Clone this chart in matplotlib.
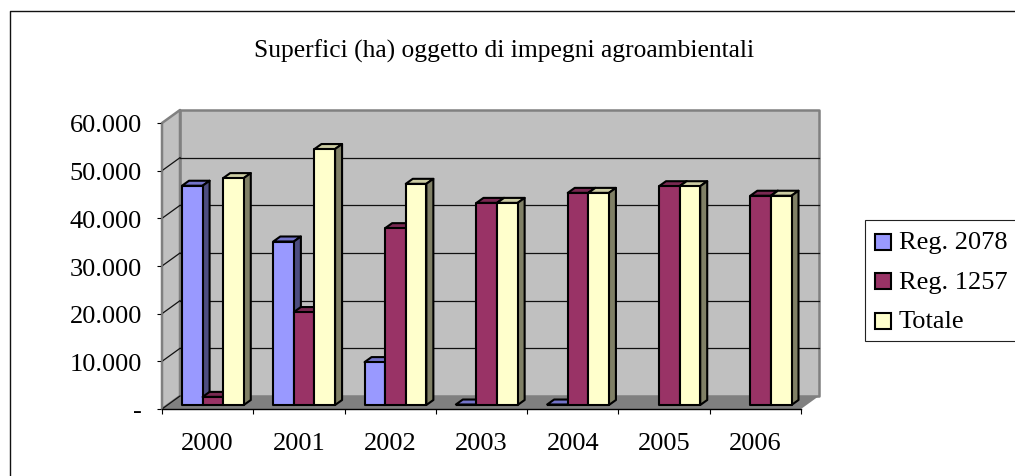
# plot.py
# 3D-look clustered columns drawn on a flat axes, depth is faked with offsets.
import matplotlib
matplotlib.use("Agg")
import matplotlib.pyplot as plt
from matplotlib.patches import Polygon, Rectangle

plt.rcParams['font.family'] = ['Liberation Serif', 'DejaVu Serif']

years = ['2000', '2001', '2002', '2003', '2004', '2005', '2006']
reg_2078 = [46000, 34300, 9000, 100, 100, 0, 0]
reg_1257 = [1700, 19500, 37100, 42400, 44500, 45900, 43900]
totale = [47600, 53700, 46400, 42400, 44500, 45900, 43900]
y_ticks = [0, 10000, 20000, 30000, 40000, 50000, 60000]
y_labels = ['-', '10.000', '20.000', '30.000', '40.000', '50.000', '60.000']
series_names = ['Reg. 2078', 'Reg. 1257', 'Totale']
title = 'Superfici (ha) oggetto di impegni agroambientali'

# front, top, side colours
colors = [('#9999FF', '#7373C9', '#4D4D80'),
          ('#993366', '#7A2952', '#4D1A33'),
          ('#FFFFCC', '#CCCCA3', '#808066')]

W, H = 1015, 477
fig = plt.figure(figsize=(W / 100, H / 100), dpi=100)
ax = fig.add_axes([162 / W, (H - 410) / H, 639 / W, 286 / H])
ax.set_xlim(0, 7)
ax.set_ylim(0, 60000)
ax.patch.set_visible(False)

# depth of the box and of the bars, in data units
DX, DY = 18 / 91.3, 13 / 47.67 * 10000
BAR_X0, BAR_W = 20 / 91.3, 20.6 / 91.3
BAR_BASE = 4 / 47.67 * 10000
BAR_DX, BAR_DY = 7 / 91.3, 5 / 47.67 * 10000
GREY = '#808080'
BAR_LW = 1.5


def poly(pts, fc, ec='none', lw=0, z=1):
    ax.add_patch(Polygon(pts, closed=True, facecolor=fc, edgecolor=ec, linewidth=lw,
                         zorder=z, clip_on=False, joinstyle='round'))


# walls and floor
poly([(DX, DY), (7 + DX, DY), (7 + DX, 60000 + DY), (DX, 60000 + DY)], '#C0C0C0', GREY, 1.8)
poly([(0, 0), (DX, DY), (DX, 60000 + DY), (0, 60000)], '#C0C0C0', GREY, 1.8)
poly([(0, 0), (7, 0), (7 + DX, DY), (DX, DY)], GREY)

# gridlines on back wall and side wall
for t in y_ticks[1:-1]:
    ax.plot([DX, 7 + DX], [t + DY, t + DY], color='#111111', lw=0.9, zorder=2, clip_on=False)
for t in y_ticks[:-1]:
    ax.plot([0, DX], [t, t + DY], color='#111111', lw=0.9, zorder=2, clip_on=False)

# bars
for i in range(len(years)):
    for s, vals in enumerate([reg_2078, reg_1257, totale]):
        v = vals[i]
        if v == 0:
            continue
        x0 = i + BAR_X0 + s * BAR_W
        x1 = x0 + BAR_W
        y0 = BAR_BASE
        y1 = BAR_BASE + v
        front, top, side = colors[s]
        z = 3 + i + s * 0.1
        poly([(x0, y1), (x1, y1), (x1 + BAR_DX, y1 + BAR_DY), (x0 + BAR_DX, y1 + BAR_DY)],
             top, 'black', BAR_LW, z)
        poly([(x1, y0), (x1 + BAR_DX, y0 + BAR_DY), (x1 + BAR_DX, y1 + BAR_DY), (x1, y1)],
             side, 'black', BAR_LW, z)
        poly([(x0, y0), (x1, y0), (x1, y1), (x0, y1)], front, 'black', BAR_LW, z)

# axes
for name in ['top', 'right']:
    ax.spines[name].set_visible(False)
ax.spines['left'].set_color(GREY)
ax.spines['left'].set_linewidth(1.2)
ax.spines['bottom'].set_color('black')
ax.spines['bottom'].set_linewidth(1.0)
ax.set_yticks(y_ticks)
ax.set_yticklabels(y_labels)
ax.set_xticks(range(8))
ax.set_xticklabels([])
ax.set_xticks([i + 0.5 for i in range(7)], minor=True)
ax.set_xticklabels(years, minor=True)
ax.tick_params(axis='x', which='major', length=3.5, width=0.8, color='black')
ax.tick_params(axis='x', which='minor', length=0, labelsize=19, pad=16.5)
ax.tick_params(axis='y', length=3.5, width=0.8, color='black', labelsize=19, pad=11)

# figure-level items, placed in pixels
def px(x, y):
    return x / W, (H - y) / H


fig.text(*px(504, 51), title, ha='center', va='center', fontsize=18.4)
fig.add_artist(plt.Line2D([10 / W, 10 / W, 1], [0, (H - 12) / H, (H - 12) / H],
                          color='#111111', lw=1.0))

# legend box runs off the right edge
lx0, ly0 = px(865, 342)
fig.add_artist(Rectangle((lx0, ly0), 1.0 - lx0 + 0.01, 121 / H, transform=fig.transFigure,
                         facecolor='white', edgecolor='#222222', lw=0.8))
for s, name in enumerate(series_names):
    yc = 242.5 + s * 39.5
    sx, sy = px(875, yc + 8)
    fig.add_artist(Rectangle((sx, sy), 16 / W, 16 / H, transform=fig.transFigure,
                             facecolor=colors[s][0], edgecolor='black', lw=1.5))
    fig.text(*px(899, yc + 1), name, ha='left', va='center', fontsize=19)

fig.savefig('out.png', dpi=100)
